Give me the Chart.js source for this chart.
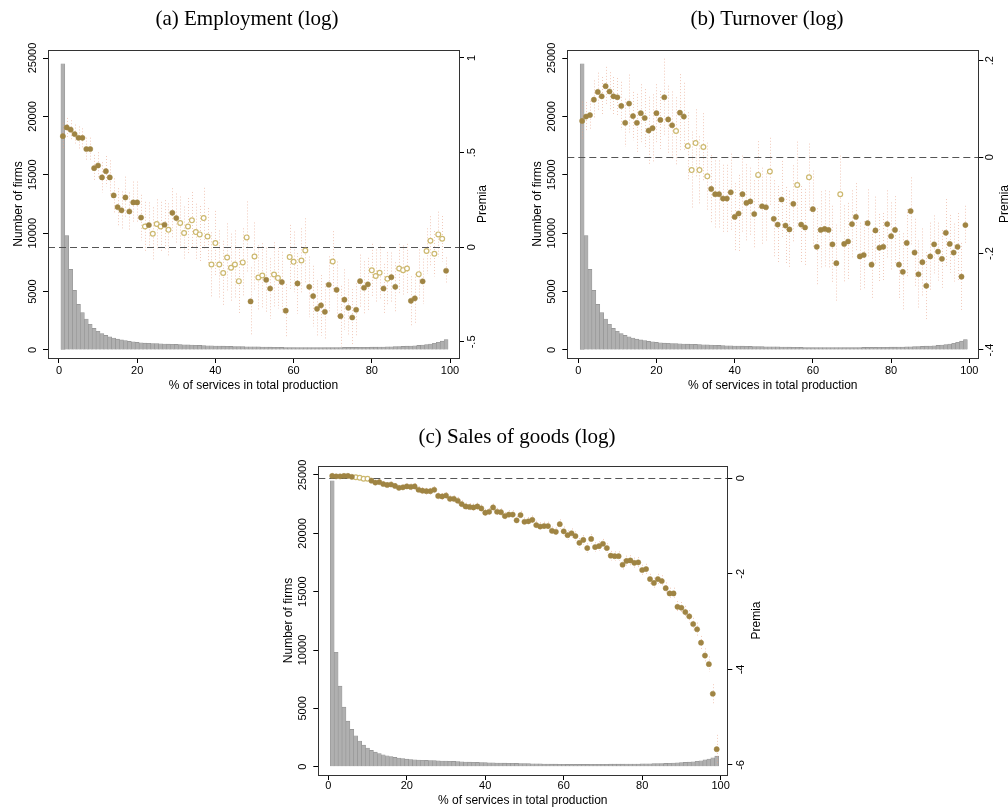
<!DOCTYPE html>
<html>
<head>
<meta charset="utf-8">
<script src="https://cdn.jsdelivr.net/npm/chart.js@4.4.0/dist/chart.umd.min.js"></script>
<style>
  html, body { margin: 0; padding: 0; background: #fff; }
  body { width: 1008px; height: 810px; position: relative; overflow: hidden; }
  .panel { position: absolute; }
</style>
</head>
<body>
<canvas id="chartA" class="panel" style="left:0px;top:0px" width="494" height="400"></canvas>
<canvas id="chartB" class="panel" style="left:519px;top:0px" width="496" height="400"></canvas>
<canvas id="chartC" class="panel" style="left:270px;top:416px" width="494" height="394"></canvas>
<script>
// x categories: % of services in total production (1..99)
const pctBins = Array.from({ length: 99 }, (_, i) => i + 1);
const pctTicks = [0, 20, 40, 60, 80, 100];

// histogram (same firm distribution in all panels)
const firmCounts = [
  24500, 9800, 6900, 5100, 3900, 3200, 2650, 2200, 1850, 1600,
  1400, 1250, 1120, 1020, 930, 860, 800, 740, 690, 650,
  620, 590, 570, 555, 540, 530, 515, 500, 490, 480,
  465, 450, 435, 420, 405, 390, 375, 365, 355, 345,
  335, 330, 320, 310, 300, 295, 290, 280, 275, 270,
  262, 255, 248, 240, 235, 228, 222, 215, 210, 205,
  200, 200, 198, 198, 200, 200, 202, 205, 205, 210,
  212, 215, 218, 220, 222, 225, 228, 230, 235, 240,
  245, 250, 258, 265, 275, 285, 295, 310, 325, 345,
  365, 390, 420, 460, 510, 580, 660, 760, 900
];
const firmTicks = [0, 5000, 10000, 15000, 20000, 25000];

// (a) Employment (log)
const empPremia = [
  0.587, 0.633, 0.621, 0.598, 0.578, 0.578, 0.519, 0.519, 0.418, 0.432,
  0.369, 0.402, 0.369, 0.274, 0.212, 0.195, 0.263, 0.189, 0.237, 0.237,
  0.157, 0.110, 0.117, 0.071, 0.123, 0.110, 0.119, 0.092, 0.182, 0.154,
  0.128, 0.075, 0.110, 0.142, 0.080, 0.068, 0.154, 0.057, -0.091, 0.022,
  -0.091, -0.136, -0.054, -0.108, -0.091, -0.179, -0.080, 0.052, -0.286, -0.049,
  -0.160, -0.149, -0.172, -0.218, -0.144, -0.163, -0.184, -0.335, -0.052, -0.077,
  -0.191, -0.070, -0.017, -0.209, -0.258, -0.325, -0.307, -0.341, -0.198, -0.075,
  -0.225, -0.364, -0.277, -0.320, -0.371, -0.330, -0.179, -0.214, -0.196, -0.122,
  -0.152, -0.135, -0.218, -0.166, -0.158, -0.209, -0.112, -0.121, -0.112, -0.283,
  -0.270, -0.142, -0.180, -0.020, 0.034, -0.034, 0.068, 0.045, -0.124
];
const empSig = [
  1, 1, 1, 1, 1, 1, 1, 1, 1, 1,
  1, 1, 1, 1, 1, 1, 1, 1, 1, 1,
  1, 0, 1, 0, 0, 0, 1, 0, 1, 1,
  0, 0, 0, 0, 0, 0, 0, 0, 0, 0,
  0, 0, 0, 0, 0, 0, 0, 0, 1, 0,
  0, 0, 1, 1, 0, 0, 1, 1, 0, 0,
  1, 0, 0, 1, 1, 1, 1, 1, 1, 0,
  1, 1, 1, 1, 1, 1, 1, 1, 1, 0,
  0, 0, 1, 0, 1, 1, 0, 0, 0, 1,
  1, 0, 1, 0, 0, 0, 0, 0, 1
];
const empCi = [
  0.07, 0.05, 0.05, 0.05, 0.06, 0.05, 0.06, 0.06, 0.07, 0.07,
  0.08, 0.08, 0.09, 0.09, 0.10, 0.10, 0.11, 0.10, 0.11, 0.11,
  0.12, 0.13, 0.12, 0.14, 0.13, 0.13, 0.13, 0.14, 0.13, 0.13,
  0.14, 0.14, 0.15, 0.15, 0.15, 0.15, 0.16, 0.15, 0.17, 0.17,
  0.18, 0.17, 0.18, 0.18, 0.18, 0.17, 0.18, 0.19, 0.18, 0.18,
  0.17, 0.17, 0.17, 0.16, 0.17, 0.16, 0.16, 0.14, 0.17, 0.16,
  0.16, 0.17, 0.17, 0.16, 0.16, 0.15, 0.16, 0.15, 0.15, 0.16,
  0.15, 0.16, 0.16, 0.15, 0.15, 0.14, 0.14, 0.14, 0.14, 0.14,
  0.14, 0.14, 0.13, 0.14, 0.13, 0.13, 0.13, 0.13, 0.13, 0.13,
  0.13, 0.13, 0.12, 0.12, 0.13, 0.12, 0.12, 0.12, 0.07
];
const empTicks = [-0.5, 0, 0.5, 1];

// (b) Turnover (log)
const turnPremia = [
  0.075, 0.084, 0.087, 0.119, 0.135, 0.126, 0.147, 0.136, 0.126, 0.124,
  0.106, 0.071, 0.111, 0.085, 0.071, 0.091, 0.081, 0.055, 0.060, 0.091,
  0.077, 0.124, 0.078, 0.066, 0.054, 0.092, 0.084, 0.023, -0.027, 0.029,
  -0.027, 0.021, -0.040, -0.066, -0.077, -0.077, -0.086, -0.086, -0.073, -0.124,
  -0.117, -0.077, -0.095, -0.092, -0.118, -0.037, -0.102, -0.104, -0.030, -0.128,
  -0.140, -0.088, -0.142, -0.150, -0.097, -0.058, -0.140, -0.146, -0.042, -0.108,
  -0.186, -0.151, -0.149, -0.151, -0.181, -0.220, -0.077, -0.180, -0.175, -0.139,
  -0.124, -0.206, -0.203, -0.137, -0.223, -0.152, -0.188, -0.186, -0.139, -0.164,
  -0.151, -0.223, -0.238, -0.178, -0.112, -0.198, -0.243, -0.218, -0.267, -0.206,
  -0.181, -0.196, -0.211, -0.157, -0.180, -0.198, -0.186, -0.248, -0.141
];
const turnSig = [
  1, 1, 1, 1, 1, 1, 1, 1, 1, 1,
  1, 1, 1, 1, 1, 1, 1, 1, 1, 1,
  1, 1, 1, 1, 0, 1, 1, 0, 0, 0,
  0, 0, 0, 1, 1, 1, 1, 1, 1, 1,
  1, 1, 1, 1, 1, 0, 1, 1, 0, 1,
  1, 1, 1, 1, 1, 0, 1, 1, 0, 1,
  1, 1, 1, 1, 1, 1, 0, 1, 1, 1,
  1, 1, 1, 1, 1, 1, 1, 1, 1, 1,
  1, 1, 1, 1, 1, 1, 1, 1, 1, 1,
  1, 1, 1, 1, 1, 1, 1, 1, 1
];
const turnCi = [
  0.04, 0.03, 0.03, 0.04, 0.04, 0.04, 0.04, 0.04, 0.04, 0.04,
  0.05, 0.05, 0.06, 0.05, 0.06, 0.06, 0.06, 0.07, 0.07, 0.06,
  0.06, 0.08, 0.07, 0.07, 0.07, 0.08, 0.07, 0.07, 0.08, 0.07,
  0.07, 0.07, 0.07, 0.07, 0.07, 0.07, 0.07, 0.07, 0.08, 0.07,
  0.08, 0.08, 0.08, 0.07, 0.07, 0.07, 0.08, 0.07, 0.07, 0.08,
  0.08, 0.08, 0.08, 0.08, 0.08, 0.09, 0.08, 0.08, 0.07, 0.08,
  0.08, 0.08, 0.08, 0.08, 0.08, 0.08, 0.08, 0.08, 0.08, 0.07,
  0.07, 0.07, 0.07, 0.07, 0.07, 0.07, 0.07, 0.07, 0.07, 0.07,
  0.07, 0.07, 0.08, 0.07, 0.07, 0.07, 0.07, 0.07, 0.07, 0.07,
  0.06, 0.06, 0.06, 0.07, 0.06, 0.06, 0.07, 0.07, 0.04
];
const turnTicks = [-0.4, -0.2, 0, 0.2];

// (c) Sales of goods (log)
const salesPremia = [
  0.05, 0.04, 0.04, 0.05, 0.05, 0.03, 0.02, 0.01, -0.01, -0.01,
  -0.05, -0.09, -0.08, -0.12, -0.14, -0.13, -0.16, -0.20, -0.19, -0.17,
  -0.18, -0.17, -0.24, -0.26, -0.27, -0.27, -0.24, -0.37, -0.38, -0.36,
  -0.43, -0.43, -0.47, -0.54, -0.59, -0.60, -0.61, -0.59, -0.63, -0.72,
  -0.70, -0.61, -0.70, -0.71, -0.79, -0.76, -0.76, -0.88, -0.77, -0.91,
  -0.90, -0.87, -0.98, -1.01, -1.00, -1.00, -1.10, -1.12, -0.96, -1.11,
  -1.19, -1.15, -1.21, -1.35, -1.29, -1.46, -1.27, -1.44, -1.42, -1.37,
  -1.46, -1.62, -1.63, -1.63, -1.81, -1.73, -1.72, -1.77, -1.76, -1.92,
  -1.90, -2.11, -2.19, -2.11, -2.15, -2.30, -2.41, -2.41, -2.69, -2.71,
  -2.80, -2.89, -3.05, -3.16, -3.44, -3.71, -3.89, -4.51, -5.67
];
const salesSig = [
  1, 1, 1, 1, 1, 1, 0, 0, 0, 0,
  1, 1, 1, 1, 1, 1, 1, 1, 1, 1,
  1, 1, 1, 1, 1, 1, 1, 1, 1, 1,
  1, 1, 1, 1, 1, 1, 1, 1, 1, 1,
  1, 1, 1, 1, 1, 1, 1, 1, 1, 1,
  1, 1, 1, 1, 1, 1, 1, 1, 1, 1,
  1, 1, 1, 1, 1, 1, 1, 1, 1, 1,
  1, 1, 1, 1, 1, 1, 1, 1, 1, 1,
  1, 1, 1, 1, 1, 1, 1, 1, 1, 1,
  1, 1, 1, 1, 1, 1, 1, 1, 1
];
const salesCi = [
  0.05, 0.04, 0.04, 0.04, 0.05, 0.05, 0.05, 0.05, 0.05, 0.05,
  0.05, 0.05, 0.06, 0.06, 0.06, 0.06, 0.06, 0.06, 0.06, 0.06,
  0.07, 0.07, 0.07, 0.07, 0.07, 0.07, 0.07, 0.07, 0.07, 0.07,
  0.07, 0.07, 0.08, 0.08, 0.08, 0.08, 0.08, 0.08, 0.08, 0.08,
  0.08, 0.08, 0.08, 0.08, 0.08, 0.09, 0.09, 0.09, 0.09, 0.09,
  0.09, 0.09, 0.09, 0.09, 0.09, 0.09, 0.09, 0.09, 0.10, 0.10,
  0.10, 0.10, 0.10, 0.10, 0.10, 0.10, 0.10, 0.10, 0.10, 0.10,
  0.10, 0.10, 0.10, 0.10, 0.11, 0.11, 0.11, 0.11, 0.11, 0.11,
  0.11, 0.11, 0.11, 0.11, 0.12, 0.12, 0.12, 0.12, 0.12, 0.12,
  0.13, 0.13, 0.13, 0.14, 0.14, 0.15, 0.16, 0.20, 0.30
];
const salesTicks = [-6, -4, -2, 0];

const SANS = "'Liberation Sans', Arial, sans-serif";
const TICK_FONT = { family: SANS, size: 11 };
const AXIS_FONT = { family: SANS, size: 12 };

// Stata style numbers: .5, -.2
function stataLabel(v) {
  return String(Math.round(v * 1000) / 1000).replace(/^(-?)0\./, '$1.');
}

// padding so that a rotated label is centred `offset` px away from its axis
const measureCtx = document.createElement('canvas').getContext('2d');
function rotatedPad(labels, offset) {
  measureCtx.font = TICK_FONT.size + 'px ' + SANS;
  const widest = Math.max(...labels.map(l => measureCtx.measureText(l).width));
  return offset - 5 - widest / 2;
}

function axisGrid() {
  return { offset: false, drawOnChartArea: false, drawTicks: true, tickLength: 5, color: '#000', lineWidth: 1 };
}

function makeDecor(premia, ci, premiaTitleOffset) {
  return {
    id: 'decor',
    afterDatasetDraw(chart, args) {
      if (args.index !== 2) return;
      const { ctx, chartArea: a, scales: { x, y2 } } = chart;
      ctx.save();
      ctx.beginPath();
      ctx.rect(a.left, a.top, a.right - a.left, a.bottom - a.top);
      ctx.clip();
      // confidence intervals
      ctx.strokeStyle = 'rgba(232,165,140,0.6)';
      ctx.lineWidth = 1;
      ctx.setLineDash([1, 2]);
      ci.forEach((c, i) => {
        const px = Math.round(x.getPixelForValue(pctBins[i])) + 0.5;
        ctx.beginPath();
        ctx.moveTo(px, y2.getPixelForValue(premia[i] + c));
        ctx.lineTo(px, y2.getPixelForValue(premia[i] - c));
        ctx.stroke();
      });
      // zero line
      const zy = Math.round(y2.getPixelForValue(0)) + 0.5;
      ctx.strokeStyle = '#555';
      ctx.lineWidth = 1.2;
      ctx.setLineDash([7, 4]);
      ctx.beginPath();
      ctx.moveTo(a.left, zy);
      ctx.lineTo(a.right, zy);
      ctx.stroke();
      ctx.restore();
    },
    afterDraw(chart) {
      const { ctx, chartArea: a, scales: { y2 } } = chart;
      ctx.save();
      ctx.strokeStyle = '#333';
      ctx.lineWidth = 1;
      ctx.strokeRect(Math.round(a.left) + 0.5, Math.round(a.top) + 0.5,
        Math.round(a.right - a.left), Math.round(a.bottom - a.top));
      // right axis title reads bottom-to-top like the left one
      ctx.translate(y2.left + premiaTitleOffset, (a.top + a.bottom) / 2);
      ctx.rotate(-Math.PI / 2);
      ctx.fillStyle = '#000';
      ctx.font = AXIS_FONT.size + 'px ' + SANS;
      ctx.textAlign = 'center';
      ctx.textBaseline = 'middle';
      ctx.fillText('Premia', 0, 0);
      ctx.restore();
    }
  };
}

function buildPanel(id, p) {
  const filled = [];
  const hollow = [];
  pctBins.forEach((x, i) => (p.sig[i] ? filled : hollow).push({ x: x, y: p.premia[i] }));

  new Chart(document.getElementById(id), {
    type: 'bar',
    data: {
      datasets: [
        {
          type: 'scatter', data: filled, yAxisID: 'y2', order: 1,
          pointRadius: 2.6, pointBackgroundColor: '#9f8443', pointBorderColor: '#9f8443', pointBorderWidth: 0.5
        },
        {
          type: 'scatter', data: hollow, yAxisID: 'y2', order: 2,
          pointRadius: 2.4, pointBackgroundColor: '#fff', pointBorderColor: '#cdb970', pointBorderWidth: 1.2
        },
        {
          type: 'bar', data: pctBins.map((x, i) => ({ x: x, y: firmCounts[i] })), yAxisID: 'y', order: 3,
          backgroundColor: '#b0b0b0', borderColor: '#929292', borderWidth: 0.6,
          barPercentage: 1, categoryPercentage: 1
        }
      ]
    },
    options: {
      responsive: false,
      animation: false,
      layout: { padding: 0 },
      plugins: {
        legend: { display: false },
        tooltip: { enabled: false },
        title: {
          display: true, text: p.title, color: '#000',
          font: { family: "'Liberation Serif', 'Times New Roman', serif", size: 21, weight: 'normal' },
          padding: { top: p.titleTop, bottom: 50 - 25.2 - p.titleTop }
        }
      },
      scales: {
        x: {
          type: 'linear', min: p.xMin, max: p.xMax, offset: false,
          afterBuildTicks: s => { s.ticks = pctTicks.map(v => ({ value: v })); },
          afterFit: s => { s.height = p.bottom; },
          grid: axisGrid(),
          border: { display: true, color: '#000', width: 1 },
          ticks: { font: TICK_FONT, color: '#000', padding: p.xTickPad, maxRotation: 0, autoSkip: false },
          title: {
            display: true, text: '% of services in total production', color: '#000', font: AXIS_FONT,
            padding: { top: 0, bottom: p.xTitlePad }
          }
        },
        y: {
          type: 'linear', position: 'left', min: p.firmMin, max: p.firmMax,
          afterBuildTicks: s => { s.ticks = firmTicks.map(v => ({ value: v })); },
          afterFit: s => { s.width = p.left; },
          grid: axisGrid(),
          border: { display: true, color: '#000', width: 1 },
          ticks: {
            font: TICK_FONT, color: '#000', minRotation: 90, maxRotation: 90, crossAlign: 'center',
            autoSkip: false, padding: rotatedPad(firmTicks.map(String), 15),
            callback: v => String(v)
          },
          title: {
            display: true, text: 'Number of firms', color: '#000', font: AXIS_FONT,
            padding: { top: 11.8, bottom: 0 }
          }
        },
        y2: {
          type: 'linear', position: 'right', min: p.premiaMin, max: p.premiaMax,
          afterBuildTicks: s => { s.ticks = p.ticks.map(v => ({ value: v })); },
          afterFit: s => { s.width = p.right; },
          grid: axisGrid(),
          border: { display: true, color: '#000', width: 1 },
          ticks: {
            font: TICK_FONT, color: '#000', minRotation: 90, maxRotation: 90, crossAlign: 'center',
            autoSkip: false, padding: rotatedPad(p.ticks.map(stataLabel), p.tickOffset),
            callback: v => stataLabel(v)
          }
        }
      }
    },
    plugins: [makeDecor(p.premia, p.ci, p.premiaTitleOffset)]
  });
}

buildPanel('chartA', {
  title: '(a) Employment (log)', premia: empPremia, sig: empSig, ci: empCi, ticks: empTicks,
  premiaMin: -0.585, premiaMax: 1.042, firmMin: -685, firmMax: 25685, xMin: -2.8, xMax: 102.3,
  left: 48, right: 35, bottom: 42, titleTop: 6.4, xTickPad: 1.4, xTitlePad: 6.8,
  tickOffset: 13, premiaTitleOffset: 24
});

buildPanel('chartB', {
  title: '(b) Turnover (log)', premia: turnPremia, sig: turnSig, ci: turnCi, ticks: turnTicks,
  premiaMin: -0.4166, premiaMax: 0.222, firmMin: -685, firmMax: 25685, xMin: -2.8, xMax: 102.3,
  left: 48.3, right: 36.7, bottom: 42, titleTop: 6.4, xTickPad: 1.4, xTitlePad: 6.8,
  tickOffset: 12, premiaTitleOffset: 26
});

buildPanel('chartC', {
  title: '(c) Sales of goods (log)', premia: salesPremia, sig: salesSig, ci: salesCi, ticks: salesTicks,
  premiaMin: -6.21, premiaMax: 0.257, firmMin: -711, firmMax: 25771, xMin: -2.55, xMax: 101.7,
  left: 48.3, right: 36.7, bottom: 35, titleTop: 8.4, xTickPad: -0.6, xTitlePad: 1.8,
  tickOffset: 14, premiaTitleOffset: 29
});
</script>
</body>
</html>
